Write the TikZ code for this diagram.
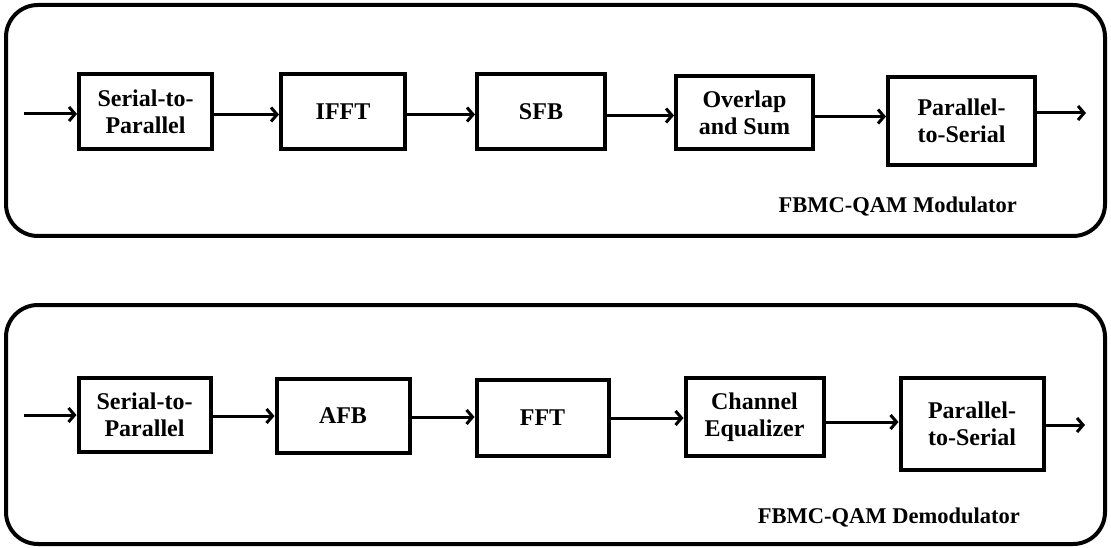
\documentclass[tikz,border=0pt]{standalone}
\usepackage{fontspec}
\setmainfont{Liberation Serif}
\usetikzlibrary{arrows.meta}
\usetikzlibrary{positioning}

\begin{document}
\begin{tikzpicture}[x=1pt,y=-1pt,>={Straight Barb[length=6pt,width=14pt,line width=3pt]},
			block/.style={draw,line width=4pt,align=center,inner sep=2pt,
				font=\bfseries\fontsize{24}{27}\selectfont},
			flow/.style={->,line width=3pt},
			panel/.style={draw,line width=4pt,rounded corners=32pt},
			paneltitle/.style={font=\bfseries\fontsize{22.5}{26}\selectfont,inner sep=0pt}]
			\useasboundingbox (0,0) rectangle (1111,548);
			
			% modulator
			\draw[panel] (6,5) rectangle (1105,236);
			\node[block, minimum width=133pt, minimum height=75pt] (sp1) at (145.5,111.5) {Serial-to-\\Parallel};
			\node[block, minimum width=124pt, minimum height=75pt, right=65pt of sp1] (ifft) {IFFT};
			\node[block, minimum width=128pt, minimum height=75pt, right=68pt of ifft] (sfb) {SFB};
			\node[block, minimum width=137pt, minimum height=73pt, right=67pt of sfb, yshift=-1pt] (ovl) {Overlap\\and Sum};
			\node[block, minimum width=147pt, minimum height=88pt, right=71pt of ovl, yshift=-8.5pt] (ps1) {Parallel-\\to-Serial};
			\node[paneltitle, anchor=base east] (mod) at (1017,213) {FBMC-QAM Modulator};
			
			\coordinate (in1) at (24,114);
			\coordinate (out1) at (1086,113);
			\draw[flow] (in1) -- (in1 -| sp1.west);
			\draw[flow] ([yshift=-3pt]sp1.east) -- ([yshift=-3pt]sp1.east -| ifft.west);
			\draw[flow] ([yshift=-3pt]ifft.east) -- ([yshift=-3pt]ifft.east -| sfb.west);
			\draw[flow] ([yshift=-4pt]sfb.east) -- ([yshift=-4pt]sfb.east -| ovl.west);
			\draw[flow] ([yshift=-4pt]ovl.east) -- ([yshift=-4pt]ovl.east -| ps1.west);
			\draw[flow] (ps1.east |- out1) -- (out1);
			
			% demodulator
			\draw[panel] (6,305) rectangle (1105,544);
			\node[block, minimum width=132pt, minimum height=74pt] (sp2) at (144.5,415) {Serial-to-\\Parallel};
			\node[block, minimum width=133pt, minimum height=74pt, right=62pt of sp2, yshift=-1pt] (afb) {AFB};
			\node[block, minimum width=132pt, minimum height=76pt, right=63pt of afb, yshift=-2pt] (fft) {FFT};
			\node[block, minimum width=138pt, minimum height=78pt, right=73pt of fft, yshift=1pt] (eq) {Channel\\Equalizer};
			\node[block, minimum width=143pt, minimum height=92pt, right=73pt of eq, yshift=-7pt] (ps2) {Parallel-\\to-Serial};
			\node[paneltitle, anchor=base east] (demod) at (1020,523) {FBMC-QAM Demodulator};
			
			\coordinate (in2) at (24,415);
			\coordinate (out2) at (1085,425);
			\draw[flow] (in2) -- (in2 -| sp2.west);
			\draw[flow] ([yshift=-1pt]sp2.east) -- ([yshift=-1pt]sp2.east -| afb.west);
			\draw[flow] ([yshift=-1pt]afb.east) -- ([yshift=-1pt]afb.east -| fft.west);
			\draw[flow] (fft.east) -- (fft.east -| eq.west);
			\draw[flow] ([yshift=-5pt]eq.east) -- ([yshift=-5pt]eq.east -| ps2.west);
			\draw[flow] (ps2.east |- out2) -- (out2);
			\end{tikzpicture}
\end{document}
